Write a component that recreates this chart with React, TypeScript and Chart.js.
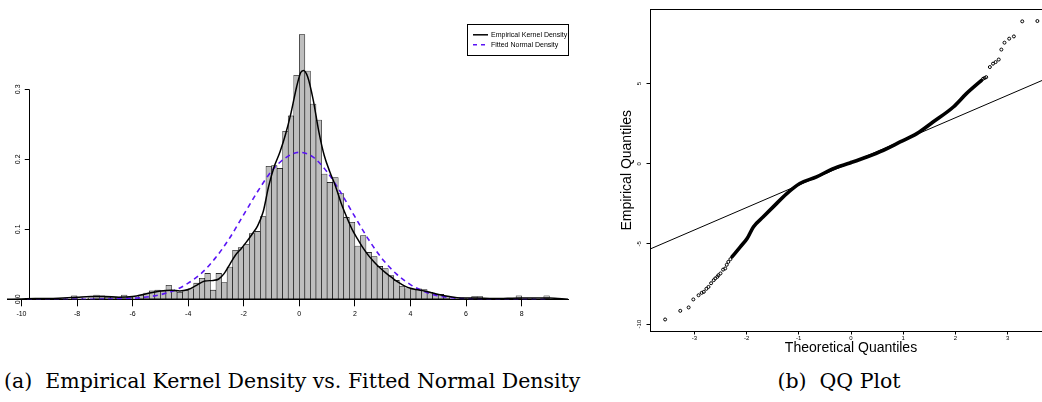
import React, { useEffect, useRef } from "react";
import { Chart, registerables } from "chart.js";

Chart.register(...registerables);

const SANS = "'Liberation Sans', Arial, Helvetica, sans-serif";
const SERIF = "'DejaVu Serif', 'Liberation Serif', serif";
const BLUE = "#5a14f5";

// ---------- (a) histogram + densities ----------
const binStart = -9.8;
const binWidth = 0.2;
const histDensity = [
  0.001, 0, 0, 0, 0.001, 0, 0.001, 0, 0.005, 0.002,
  0.001, 0.002, 0.006, 0.005, 0.003, 0.003, 0.003, 0.006, 0.003, 0.002,
  0.006, 0.009, 0.012, 0.013, 0.012, 0.02, 0.012, 0.01, 0.013, 0.015,
  0.023, 0.03, 0.037, 0.013, 0.037, 0.024, 0.046, 0.07, 0.074, 0.078,
  0.094, 0.097, 0.118, 0.19, 0.191, 0.187, 0.24, 0.262, 0.32, 0.378,
  0.326, 0.279, 0.256, 0.179, 0.167, 0.174, 0.151, 0.117, 0.11, 0.076,
  0.091, 0.067, 0.061, 0.047, 0.044, 0.034, 0.027, 0.018, 0.015, 0.014,
  0.015, 0.014, 0.01, 0.007, 0.007, 0.004, 0.002, 0.002, 0.001, 0.001,
  0.004, 0.004, 0.001, 0, 0.001, 0, 0.001, 0, 0.005, 0,
  0.001, 0, 0, 0.005,
];

const kdeX = [
  -10.52, -10, -9.5, -9, -8.5, -8, -7.5, -7, -6.5, -6, -5.5, -5, -4.6, -4.3, -4,
  -3.7, -3.4, -3.1, -2.9, -2.7, -2.5, -2.3, -2.1, -1.9, -1.7, -1.5, -1.3, -1.1,
  -0.9, -0.7, -0.5, -0.3, -0.1, 0.05, 0.15, 0.3, 0.5, 0.7, 0.9, 1.1, 1.3, 1.5,
  1.7, 1.9, 2.1, 2.3, 2.5, 2.7, 2.9, 3.1, 3.3, 3.5, 3.7, 3.9, 4.2, 4.5, 4.8, 5.1,
  5.4, 5.8, 6.3, 7, 8, 9, 9.67,
];
const kdeY = [
  0, 0.0005, 0.001, 0.001, 0.002, 0.003, 0.004, 0.004, 0.003, 0.004, 0.008, 0.012,
  0.013, 0.012, 0.014, 0.02, 0.026, 0.027, 0.029, 0.037, 0.05, 0.063, 0.072, 0.082,
  0.093, 0.105, 0.125, 0.162, 0.19, 0.21, 0.235, 0.266, 0.303, 0.324, 0.327, 0.318,
  0.285, 0.24, 0.205, 0.182, 0.162, 0.138, 0.118, 0.1, 0.086, 0.073, 0.062, 0.053,
  0.045, 0.038, 0.032, 0.026, 0.021, 0.017, 0.014, 0.012, 0.009, 0.006, 0.004,
  0.002, 0.002, 0.001, 0.002, 0.002, 0,
];

const normalX = [
  -9.8, -8, -7, -6, -5.5, -5, -4.5, -4, -3.5, -3, -2.5, -2, -1.5, -1, -0.5, 0,
  0.5, 1, 1.5, 2, 2.5, 3, 3.5, 4, 4.5, 5, 5.5, 6, 7, 8, 8.9,
];
const normalY = [
  0, 0, 0.0003, 0.0015, 0.0033, 0.0066, 0.0127, 0.023, 0.038, 0.06, 0.088, 0.121,
  0.154, 0.183, 0.202, 0.21, 0.203, 0.182, 0.152, 0.118, 0.085, 0.057, 0.036,
  0.021, 0.011, 0.005, 0.0022, 0.0009, 0.0001, 0, 0,
];

const histXTicks = [-10, -8, -6, -4, -2, 0, 2, 4, 6, 8];
const histYTicks = [0, 0.1, 0.2, 0.3];
const histXRange = [-10.52, 9.67];
const histYRange = [0, 0.4];
const histYAxisAt = -9.737;
const seriesLabels = ["Empirical Kernel Density", "Fitted Normal Density"];

// ---------- (b) QQ plot ----------
const qqDenseX = [
  -2.28, -2.12, -1.99, -1.87, -1.68, -1.49, -1.23, -0.98, -0.66, -0.34, -0.02,
  0.3, 0.62, 0.94, 1.26, 1.57, 1.96, 2.21, 2.5,
];
const qqDenseY = [
  -5.81, -5.18, -4.66, -3.94, -3.31, -2.69, -1.86, -1.23, -0.82, -0.3, 0.05,
  0.42, 0.84, 1.36, 1.88, 2.6, 3.54, 4.37, 5.2,
];
const qqTailX = [
  -3.56, -3.27, -3.11, -3.02, -2.92, -2.86, -2.82, -2.77, -2.73, -2.68, -2.63,
  -2.6, -2.56, -2.54, -2.5, -2.45, -2.41, -2.38, -2.35, -2.31,
  2.53, 2.56, 2.59, 2.66, 2.72, 2.77, 2.83, 2.88, 2.94, 3.03, 3.12, 3.28, 3.57,
];
const qqTailY = [
  -9.71, -9.17, -8.96, -8.46, -8.2, -8.05, -7.99, -7.8, -7.68, -7.45, -7.26,
  -7.15, -7.05, -6.95, -6.84, -6.6, -6.53, -6.3, -6.12, -5.95,
  5.3, 5.35, 5.4, 6.03, 6.24, 6.34, 6.5, 7.12, 7.55, 7.8, 7.94, 8.88, 8.9,
];
const qqLineX = [-3.85, 3.85];
const qqLineY = [-5.32, 5.46];
const qqXTicks = [-3, -2, -1, 0, 1, 2, 3];
const qqYTicks = [-10, -5, 0, 5];
const qqXRange = [-3.85, 3.85];
const qqYRange = [-10.46, 9.65];

const captionA = "(a)  Empirical Kernel Density vs. Fitted Normal Density";
const captionB = "(b)  QQ Plot";

const toPts = (xs: number[], ys: number[]) => xs.map((x, i) => ({ x, y: ys[i] }));

const shiftYAxis = {
  id: "shiftYAxis",
  afterLayout(chart: any) {
    const y = chart.scales.y;
    const px = chart.scales.x.getPixelForValue(histYAxisAt);
    y.left = 0;
    y.right = px;
  },
};

const yAxisSegment = {
  id: "yAxisSegment",
  afterDraw(chart: any) {
    const y = chart.scales.y;
    const ctx = chart.ctx;
    const x = Math.round(y.right) + 0.5;
    ctx.save();
    ctx.strokeStyle = "#000";
    ctx.lineWidth = 1;
    ctx.beginPath();
    ctx.moveTo(x, y.getPixelForValue(histYTicks[0]));
    ctx.lineTo(x, y.getPixelForValue(histYTicks[histYTicks.length - 1]));
    ctx.stroke();
    ctx.restore();
  },
};

const boxLegend = {
  id: "boxLegend",
  afterDraw(chart: any) {
    const { ctx, chartArea } = chart;
    const w = 101;
    const h = 31;
    const right = chartArea.right;
    const top = chartArea.top + 5;
    const left = right - w;
    ctx.save();
    ctx.fillStyle = "#fff";
    ctx.fillRect(left, top, w, h);
    ctx.strokeStyle = "#000";
    ctx.lineWidth = 1;
    ctx.strokeRect(Math.round(left) + 0.5, Math.round(top) + 0.5, w, h);
    const dsets = chart.data.datasets.filter((d: any) => seriesLabels.includes(d.label));
    dsets.forEach((d: any, i: number) => {
      const yy = top + 10.5 + i * 10;
      ctx.strokeStyle = d.borderColor;
      ctx.lineWidth = d.borderWidth;
      ctx.setLineDash(d.borderDash ? [4, 4] : []);
      ctx.beginPath();
      ctx.moveTo(left + 6, yy);
      ctx.lineTo(left + 21, yy);
      ctx.stroke();
      ctx.setLineDash([]);
      ctx.fillStyle = "#000";
      ctx.font = `7px ${SANS}`;
      ctx.textBaseline = "middle";
      ctx.textAlign = "left";
      ctx.fillText(d.label, left + 24, yy);
    });
    ctx.restore();
  },
};

function HistChart() {
  const ref = useRef<HTMLCanvasElement | null>(null);
  useEffect(() => {
    if (!ref.current) return;
    const bars = histDensity.map((d, i) => ({ x: binStart + binWidth * (i + 0.5), y: d }));
    const chart = new Chart(ref.current, {
      type: "bar",
      data: {
        datasets: [
          {
            type: "line",
            label: seriesLabels[0],
            data: toPts(kdeX, kdeY),
            borderColor: "#000",
            borderWidth: 1.5,
            pointRadius: 0,
            cubicInterpolationMode: "monotone",
            order: 1,
          } as any,
          {
            type: "line",
            label: seriesLabels[1],
            data: toPts(normalX, normalY),
            borderColor: BLUE,
            borderWidth: 1.6,
            borderDash: [5, 4],
            pointRadius: 0,
            cubicInterpolationMode: "monotone",
            order: 2,
          } as any,
          {
            type: "bar",
            label: "histogram",
            data: bars,
            backgroundColor: "#bebebe",
            borderColor: "#000",
            borderWidth: 0.6,
            borderSkipped: false,
            barPercentage: 1,
            categoryPercentage: 1,
            order: 3,
          } as any,
        ],
      },
      options: {
        animation: false,
        responsive: false,
        events: [],
        layout: { padding: { left: 7, right: 12, top: 19.3, bottom: 0 } },
        plugins: { legend: { display: false }, tooltip: { enabled: false } },
        scales: {
          x: {
            type: "linear",
            min: histXRange[0],
            max: histXRange[1],
            offset: false,
            afterBuildTicks: (s: any) => {
              s.ticks = histXTicks.map((v) => ({ value: v }));
            },
            afterFit: (s: any) => {
              s.height = 30.7;
            },
            ticks: {
              autoSkip: false,
              maxRotation: 0,
              font: { family: SANS, size: 7 },
              color: "#000",
              padding: 4,
              callback: (v: any) => String(v),
            },
            grid: { drawOnChartArea: false, tickLength: 7, color: "#000", offset: false },
            border: { display: true, color: "#000", width: 1 },
          },
          y: {
            type: "linear",
            min: histYRange[0],
            max: histYRange[1],
            afterBuildTicks: (s: any) => {
              s.ticks = histYTicks.map((v) => ({ value: v }));
            },
            afterFit: (s: any) => {
              s.width = 0;
            },
            ticks: {
              autoSkip: false,
              minRotation: 90,
              maxRotation: 90,
              crossAlign: "center",
              padding: 2,
              font: { family: SANS, size: 7 },
              color: "#000",
              callback: (v: any) => Number(v).toFixed(1),
            },
            grid: { drawOnChartArea: false, tickLength: 4, color: "#000" },
            border: { display: false },
          },
        },
      } as any,
      plugins: [shiftYAxis, yAxisSegment, boxLegend],
    });
    return () => chart.destroy();
  }, []);
  return <canvas ref={ref} width={580} height={330} style={{ position: "absolute", left: 0, top: 0 }} />;
}

function QQChart() {
  const ref = useRef<HTMLCanvasElement | null>(null);
  useEffect(() => {
    if (!ref.current) return;
    const chart = new Chart(ref.current, {
      type: "scatter",
      data: {
        datasets: [
          {
            type: "line",
            label: "qqline",
            data: toPts(qqLineX, qqLineY),
            borderColor: "#000",
            borderWidth: 1,
            pointRadius: 0,
            order: 3,
          } as any,
          {
            type: "line",
            label: "sample (dense)",
            data: toPts(qqDenseX, qqDenseY),
            borderColor: "#000",
            borderWidth: 3.6,
            pointRadius: 0,
            cubicInterpolationMode: "monotone",
            borderCapStyle: "round",
            order: 1,
          } as any,
          {
            type: "scatter",
            label: "sample (tails)",
            data: toPts(qqTailX, qqTailY),
            pointRadius: 1.5,
            pointBorderWidth: 1,
            borderColor: "#000",
            backgroundColor: "rgba(255,255,255,0)",
            order: 2,
          } as any,
        ],
      },
      options: {
        animation: false,
        responsive: false,
        events: [],
        layout: { padding: { left: 0, right: 8, top: 9, bottom: 0 } },
        plugins: { legend: { display: false }, tooltip: { enabled: false } },
        scales: {
          x: {
            type: "linear",
            position: "bottom",
            min: qqXRange[0],
            max: qqXRange[1],
            afterBuildTicks: (s: any) => {
              s.ticks = qqXTicks.map((v) => ({ value: v }));
            },
            afterFit: (s: any) => {
              s.height = 28.5;
            },
            ticks: {
              autoSkip: false,
              maxRotation: 0,
              font: { family: SANS, size: 6 },
              color: "#000",
              padding: 0.5,
            },
            grid: { drawOnChartArea: false, tickLength: 3, color: "#000" },
            border: { display: true, color: "#000", width: 1 },
            title: {
              display: true,
              text: "Theoretical Quantiles",
              font: { family: SANS, size: 14 },
              color: "#000",
              padding: { top: 0, bottom: 3.6 },
            },
          },
          y: {
            type: "linear",
            min: qqYRange[0],
            max: qqYRange[1],
            afterBuildTicks: (s: any) => {
              s.ticks = qqYTicks.map((v) => ({ value: v }));
            },
            afterFit: (s: any) => {
              s.width = 50;
            },
            ticks: {
              autoSkip: false,
              minRotation: 90,
              maxRotation: 90,
              crossAlign: "center",
              padding: 3,
              font: { family: SANS, size: 6 },
              color: "#000",
            },
            grid: { drawOnChartArea: false, tickLength: 3.5, color: "#000" },
            border: { display: true, color: "#000", width: 1 },
            title: {
              display: true,
              text: "Empirical Quantiles",
              font: { family: SANS, size: 14 },
              color: "#000",
              padding: { top: 18.6, bottom: 0 },
            },
          },
          xTop: {
            type: "linear",
            position: "top",
            min: qqXRange[0],
            max: qqXRange[1],
            ticks: { display: false },
            grid: { display: false },
            border: { display: true, color: "#000", width: 1 },
            afterFit: (s: any) => {
              s.height = 0;
            },
          },
        },
      } as any,
    });
    return () => chart.destroy();
  }, []);
  return <canvas ref={ref} width={460} height={360} style={{ position: "absolute", left: 600, top: 0 }} />;
}

export default function App() {
  const cap: React.CSSProperties = {
    position: "absolute",
    top: 369,
    height: 24,
    lineHeight: "24px",
    fontFamily: SERIF,
    fontSize: 20.5,
    color: "#000",
    whiteSpace: "pre",
  };
  return (
    <div
      style={{
        position: "absolute",
        left: 0,
        top: 0,
        width: 1042,
        height: 402,
        overflow: "hidden",
        background: "#fff",
      }}
    >
      <HistChart />
      <QQChart />
      <div style={{ ...cap, left: 4 }}>{captionA}</div>
      <div style={{ ...cap, left: 839, transform: "translateX(-50%)" }}>{captionB}</div>
    </div>
  );
}
